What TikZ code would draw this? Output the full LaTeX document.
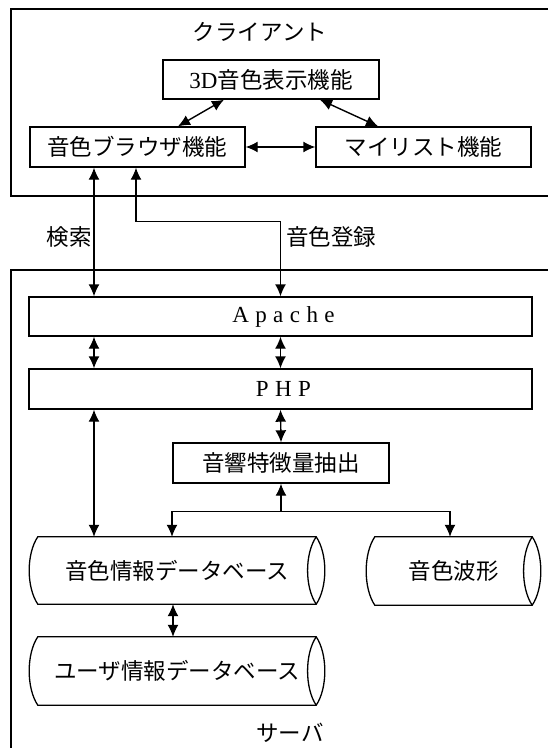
\documentclass[tikz,border=0pt]{standalone}
\usepackage{fontspec}
\setmainfont{Noto Sans CJK JP}
\newfontfamily\latin{Liberation Serif}
\newfontfamily\latinsp[LetterSpace=28]{Liberation Serif}
\usetikzlibrary{arrows.meta,calc}
\newcommand\cylshape[2]{%
  \draw[line width=1.3pt] (#1.north west) -- (#1.north east)
    .. controls +(#2,17) and +(#2,-17) .. (#1.south east)
    -- (#1.south west)
    .. controls +(-#2,-17) and +(-#2,17) .. (#1.north west) -- cycle;
  \draw[line width=1.3pt] (#1.north east) .. controls +(-#2,17) and +(-#2,-17) .. (#1.south east);}
\begin{document}
\begin{tikzpicture}[x=1pt,y=-1pt,
  box/.style={draw,line width=1.4pt,inner sep=0pt,font=\fontsize{22.5}{26}\selectfont},
  frame/.style={draw,line width=1.4pt,inner sep=0pt},
  lbl/.style={inner sep=0pt,font=\fontsize{22.5}{26}\selectfont},
  cylbody/.style={inner sep=0pt,font=\fontsize{22.5}{26}\selectfont},
  dbl/.style={line width=1.4pt,{Latex[length=12pt,width=11pt]}-{Latex[length=12pt,width=11pt]}},
  arr/.style={line width=1.4pt,-{Latex[length=12pt,width=11pt]}}]
\fill[white] (0,0) rectangle (548,748);
\useasboundingbox (0,0) rectangle (548,748);
\clip (0,0) rectangle (548,748);

% outer frames
\node[frame,minimum width=559pt,minimum height=187pt] (client) at (290.5,102.5) {};
\node[frame,minimum width=559pt,minimum height=500pt] (server) at (290.5,520) {};
\node[lbl] (clientlbl) at (260,32) {クライアント};
\node[lbl] (serverlbl) at (290,733) {サーバ};

% client nodes
\node[box,minimum width=216pt,minimum height=39pt] (td) at (271,79.5) {{\latin\fontsize{23}{26}\selectfont 3D}音色表示機能};
\node[box,minimum width=215pt,minimum height=40pt] (br) at (137.5,147) {音色ブラウザ機能};
\node[box,minimum width=215pt,minimum height=40pt] (ml) at (423.5,147) {マイリスト機能};

% server nodes
\node[box,minimum width=503pt,minimum height=39pt] (ap) at (280.5,316.5) {{\latinsp\fontsize{23}{26}\selectfont Apache\kern-6pt}};
\node[box,minimum width=503pt,minimum height=40pt] (php) at (280.5,389) {{\latinsp\fontsize{23}{26}\selectfont PHP\kern-6pt}};
\node[box,minimum width=216pt,minimum height=40pt] (ac) at (281,463) {音響特徴量抽出};
\node[cylbody,minimum width=278pt,minimum height=67pt] (db1) at (177,570.5) {音色情報データベース};
\node[cylbody,minimum width=157pt,minimum height=68pt] (db2) at (453.5,571) {音色波形};
\node[cylbody,minimum width=278pt,minimum height=68pt] (db3) at (177,671) {ユーザ情報データベース};
\cylshape{db1}{11.5}
\cylshape{db2}{11.5}
\cylshape{db3}{11.5}

% labels
\node[lbl] (kensaku) at (69,237) {検索};
\node[lbl] (touroku) at (331,237) {音色登録};

% connectors in client
\draw[dbl] ([xshift=-47pt]td.south) -- ([xshift=40.5pt]br.north);
\draw[dbl] ([xshift=49pt]td.south) -- ([xshift=-45.5pt]ml.north);
\draw[dbl] (br.east) -- (ml.west);

% client-server
\coordinate (s1) at ([xshift=-43.5pt]br.south);
\coordinate (s2) at ([xshift=-1.5pt]br.south);
\draw[dbl] (s1) -- (s1 |- ap.north);
\draw[dbl] (s2) -- ++(0,54) -| (ap.north);

% server connectors
\draw[dbl] (s1 |- ap.south) -- (s1 |- php.north);
\draw[dbl] (ap.south) -- (php.north);
\draw[dbl] (php.south) -- (ac.north);
\draw[dbl] (s1 |- php.south) -- (s1 |- db1.north);
\coordinate (j) at ([yshift=-28pt]ac.south);
\draw[arr] (j) -- (ac.south);
\draw[arr] (j) -| ([xshift=-5pt]db1.north);
\draw[arr] (j) -| ([xshift=-3.5pt]db2.north);
\draw[dbl] ([xshift=-4pt]db1.south) -- ([xshift=-4pt]db3.north);
\end{tikzpicture}
\end{document}
